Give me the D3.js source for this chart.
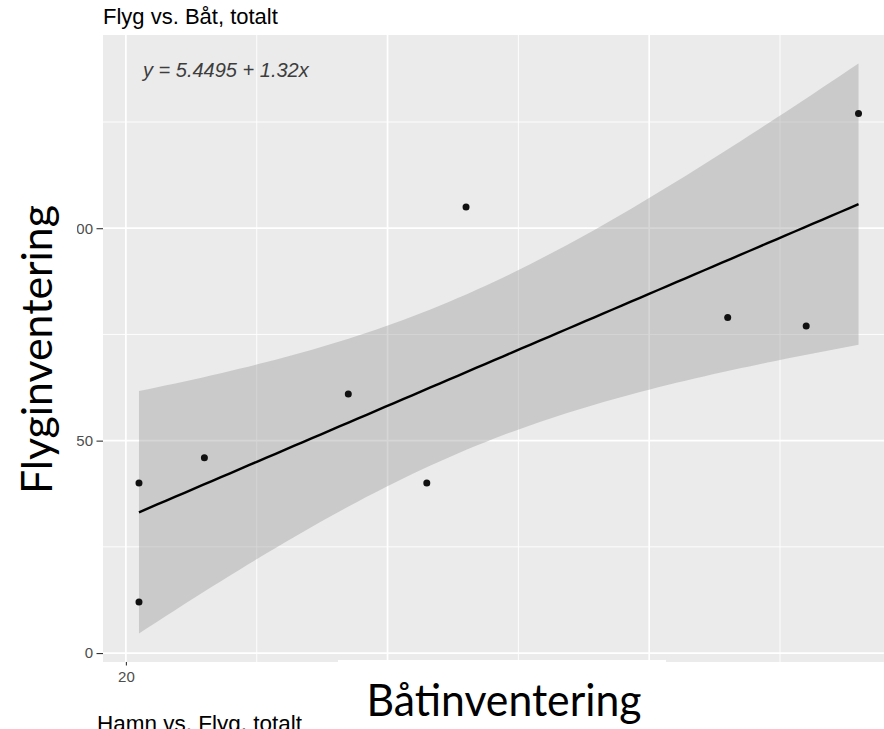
<!DOCTYPE html>
<html>
<head>
<meta charset="utf-8">
<script src="https://cdn.jsdelivr.net/npm/d3@7"></script>
<style>
  html, body { margin: 0; padding: 0; background: #fff; }
  svg { display: block; }
</style>
</head>
<body>
<svg id="chart" width="884" height="729"></svg>
<script>
// ---- data ----
const boatInventory   = [21, 21, 26, 37, 43, 46, 66, 72, 76];   // x: Båtinventering
const flightInventory = [40, 12, 46, 61, 40, 105, 79, 77, 127]; // y: Flyginventering
const xMajorTicks = [20, 40, 60];
const xTickLabels = ["20", "", ""];          // 40 and 60 are hidden under the axis-title box
const xMinorTicks = [30, 50, 70];
const yMajorTicks = [0, 50, 100];
const yMinorTicks = [25, 75, 125];
const titleText = "Flyg vs. Båt, totalt";
const nextTitleText = "Hamn vs. Flyg, totalt";
const equationText = "y = 5.4495 + 1.32x";
const xLabelText = "Båtinventering";
const yLabelText = "Flyginventering";
const tCrit = 2.364624; // qt(0.975, df = 7)

// ---- linear model (geom_smooth(method = "lm")) ----
const n = boatInventory.length;
const mx = d3.mean(boatInventory), my = d3.mean(flightInventory);
const Sxx = d3.sum(boatInventory, x => (x - mx) ** 2);
const Sxy = d3.sum(boatInventory, (x, i) => (x - mx) * (flightInventory[i] - my));
const slope = Sxy / Sxx, intercept = my - slope * mx;
const sse = d3.sum(boatInventory, (x, i) => (flightInventory[i] - (intercept + slope * x)) ** 2);
const sRes = Math.sqrt(sse / (n - 2));
const xMin = d3.min(boatInventory), xMax = d3.max(boatInventory);
const fit = d3.range(80).map(k => {
  const x = xMin + (xMax - xMin) * k / 79;
  const yhat = intercept + slope * x;
  const se = sRes * Math.sqrt(1 / n + (x - mx) ** 2 / Sxx);
  return { x, y: yhat, lo: yhat - tCrit * se, hi: yhat + tCrit * se };
});

// ---- scales with ggplot-style 5% expansion ----
const xr = xMax - xMin;
const yLo = Math.min(d3.min(flightInventory), d3.min(fit, d => d.lo));
const yHi = Math.max(d3.max(flightInventory), d3.max(fit, d => d.hi));
const yrng = yHi - yLo;

const panel = { left: 103, top: 35, bottom: 662, right: 894.5 };
const x = d3.scaleLinear().domain([xMin - 0.05 * xr, xMax + 0.05 * xr]).range([panel.left, panel.right]);
const y = d3.scaleLinear().domain([yLo - 0.05 * yrng, yHi + 0.05 * yrng]).range([panel.bottom, panel.top]);

const svg = d3.select("#chart");
const sansFont = "'Liberation Sans', Arial, Helvetica, sans-serif";

// panel background
svg.append("rect")
  .attr("x", panel.left).attr("y", panel.top)
  .attr("width", panel.right - panel.left).attr("height", panel.bottom - panel.top)
  .attr("fill", "#EBEBEB");

const grid = svg.append("g");
grid.selectAll(".ymin").data(yMinorTicks).join("line")
  .attr("x1", panel.left).attr("x2", panel.right)
  .attr("y1", d => y(d)).attr("y2", d => y(d))
  .attr("stroke", "#fff").attr("stroke-width", 0.9);
grid.selectAll(".xmin").data(xMinorTicks).join("line")
  .attr("y1", panel.top).attr("y2", panel.bottom)
  .attr("x1", d => x(d)).attr("x2", d => x(d))
  .attr("stroke", "#fff").attr("stroke-width", 0.9);
grid.selectAll(".ymaj").data(yMajorTicks).join("line")
  .attr("x1", panel.left).attr("x2", panel.right)
  .attr("y1", d => y(d)).attr("y2", d => y(d))
  .attr("stroke", "#fff").attr("stroke-width", 1.7);
grid.selectAll(".xmaj").data(xMajorTicks).join("line")
  .attr("y1", panel.top).attr("y2", panel.bottom)
  .attr("x1", d => x(d)).attr("x2", d => x(d))
  .attr("stroke", "#fff").attr("stroke-width", 1.7);

// confidence ribbon
svg.append("path").datum(fit)
  .attr("d", d3.area().x(d => x(d.x)).y0(d => y(d.lo)).y1(d => y(d.hi)))
  .attr("fill", "#999999").attr("fill-opacity", 0.4);

// regression line
svg.append("path").datum(fit)
  .attr("d", d3.line().x(d => x(d.x)).y(d => y(d.y)))
  .attr("fill", "none").attr("stroke", "#000").attr("stroke-width", 2.4);

// points
svg.append("g").selectAll("circle")
  .data(boatInventory.map((bx, i) => ({ bx, fy: flightInventory[i] })))
  .join("circle")
  .attr("cx", d => x(d.bx)).attr("cy", d => y(d.fy))
  .attr("r", 3.5).attr("fill", "#111");

// axes
const yAxis = d3.axisLeft(y).tickValues(yMajorTicks).tickSize(6.5).tickPadding(3.5).tickFormat(d3.format("d"));
const gy = svg.append("g").attr("transform", `translate(${panel.left},0)`).call(yAxis);
gy.select(".domain").remove();
gy.selectAll(".tick line").attr("stroke", "#333").attr("stroke-width", 1.1);
gy.selectAll(".tick text").attr("fill", "#4D4D4D").style("font-family", sansFont).style("font-size", "15px");

const xAxis = d3.axisBottom(x).tickValues(xMajorTicks).tickSize(3.5).tickPadding(6)
  .tickFormat((d, i) => xTickLabels[i]);
const gx = svg.append("g").attr("transform", `translate(0,${panel.bottom})`).call(xAxis);
gx.select(".domain").remove();
gx.selectAll(".tick line").attr("stroke", "#333").attr("stroke-width", 1.1);
gx.selectAll(".tick text").attr("fill", "#4D4D4D").style("font-family", sansFont).style("font-size", "15px");

// equation annotation
svg.append("text")
  .attr("x", 143).attr("y", 77)
  .style("font-family", sansFont).style("font-size", "20px").style("font-style", "italic")
  .attr("fill", "#3d3d3d")
  .text(equationText);

// title
svg.append("text")
  .attr("x", 103).attr("y", 24)
  .style("font-family", sansFont).style("font-size", "22px")
  .attr("fill", "#000")
  .text(titleText);

// next chart title (cut off at bottom)
svg.append("text")
  .attr("x", 97).attr("y", 731)
  .style("font-family", sansFont).style("font-size", "22.5px")
  .attr("fill", "#000")
  .text(nextTitleText);

// overlaid axis-title text boxes (white background)
svg.append("rect").attr("x", 0).attr("y", 185).attr("width", 77).attr("height", 330).attr("fill", "#fff");
svg.append("rect").attr("x", 338).attr("y", 660).attr("width", 328).attr("height", 69).attr("fill", "#fff");

const bigFont = "Lato, 'Open Sans', 'Noto Sans', sans-serif";
svg.append("text")
  .attr("x", 366.5).attr("y", 716)
  .style("font-family", bigFont).style("font-size", "44px")
  .attr("textLength", 275).attr("lengthAdjust", "spacingAndGlyphs")
  .attr("fill", "#000")
  .text(xLabelText);

svg.append("text")
  .attr("transform", "translate(52,494) rotate(-90)")
  .attr("x", 0).attr("y", 0)
  .style("font-family", bigFont).style("font-size", "42px")
  .attr("textLength", 289).attr("lengthAdjust", "spacingAndGlyphs")
  .attr("fill", "#000")
  .text(yLabelText);
</script>
</body>
</html>
